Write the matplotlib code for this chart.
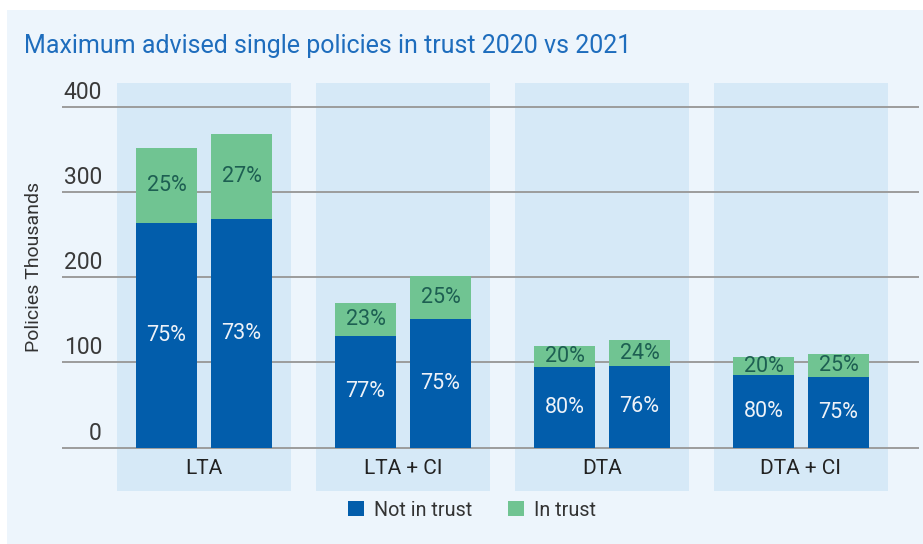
import numpy as np
import matplotlib
matplotlib.use('Agg')
import matplotlib.pyplot as plt
from matplotlib.patches import Rectangle, Patch
import matplotlib.transforms as mtransforms

plt.rcParams['font.family'] = ['Roboto', 'DejaVu Sans']

# policy types, two bars each (2020, 2021)
categories = ["LTA", "LTA + CI", "DTA", "DTA + CI"]
totals_2020 = [352, 170, 119, 106]       # thousands of policies
totals_2021 = [368, 202, 126, 110]
not_in_trust_2020 = [75, 77, 80, 80]     # percent of total
not_in_trust_2021 = [73, 75, 76, 75]
in_trust_2020 = [25, 23, 20, 20]
in_trust_2021 = [27, 25, 24, 25]
y_ticks = [0, 100, 200, 300, 400]

blue = "#025dab"
green = "#70c492"
panel = "#d6e9f7"
bg = "#edf5fc"

fig = plt.figure(figsize=(9.23, 5.44), dpi=100)
fig.patch.set_facecolor("white")
fig.patches.append(Rectangle((7 / 923, 0), 1, 1 - 10 / 544, transform=fig.transFigure,
                             facecolor=bg, edgecolor="none", zorder=-10))

ax = fig.add_axes([62 / 923, 1 - 490.7 / 544, 857 / 923, 407.7 / 544])
ax.set_facecolor("none")
ax.set_xlim(-0.7136, 3.593)
ax.set_ylim(-50.4, 427.8)
ax.axis("off")

x = np.arange(len(categories))
width = 0.3065
off = 0.1884

# light panel behind each group
for xi in x:
    ax.axvspan(xi - 0.437, xi + 0.437, color=panel, zorder=0, lw=0)

# gridlines with their labels sitting just above
ytrans = mtransforms.blended_transform_factory(ax.transAxes, ax.transData)
for t in y_ticks:
    ax.axhline(t, color="#9c9c9c", lw=1.4, zorder=1)
    ax.text(40 / 857, t + 9.5, str(t), transform=ytrans,
            ha="right", va="baseline", fontsize=16.5, color="#3a3a3a")

for xpos, tot, nit, it in [(x - off, totals_2020, not_in_trust_2020, in_trust_2020),
                           (x + off, totals_2021, not_in_trust_2021, in_trust_2021)]:
    tot = np.array(tot, dtype=float)
    low = tot * np.array(nit) / 100
    high = tot * np.array(it) / 100
    ax.bar(xpos, low, width, color=blue, zorder=2)
    ax.bar(xpos, high, width, bottom=low, color=green, zorder=2)
    for i in range(len(categories)):
        ax.text(xpos[i], low[i] / 2, f"{nit[i]}%", ha="center", va="center",
                fontsize=15.5, color="#eef2f8", zorder=3)
        ax.text(xpos[i], low[i] + high[i] / 2, f"{it[i]}%", ha="center", va="center",
                fontsize=15.5, color="#1d5f52", zorder=3)

for xi, name in zip(x, categories):
    ax.text(xi, -24, name, ha="center", va="center", fontsize=15, color="#222222")

fig.text(24 / 923, 1 - 46 / 544, "Maximum advised single policies in trust 2020 vs 2021",
         ha="left", va="center", fontsize=18, color="#1e6dbd")
fig.text(34 / 923, 1 - 267 / 544, "Policies Thousands", rotation=90, ha="center", va="center",
         fontsize=14, color="#333333")

handles = [Patch(facecolor=blue, label="Not in trust"), Patch(facecolor=green, label="In trust")]
fig.legend(handles=handles, loc="center", bbox_to_anchor=(472 / 923, 1 - 510 / 544), ncol=2,
           frameon=False, fontsize=14.2, handlelength=0.82, handleheight=0.82,
           handletextpad=0.5, columnspacing=1.8, labelcolor="#333333")

fig.savefig("out.png", dpi=100, facecolor=fig.get_facecolor())
